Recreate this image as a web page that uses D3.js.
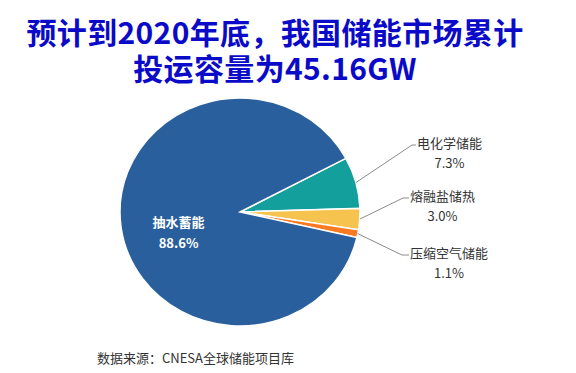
<!DOCTYPE html>
<html>
<head>
<meta charset="utf-8">
<script src="https://cdn.jsdelivr.net/npm/d3@7"></script>
<style>
  body { margin: 0; background: #fff; }
  svg { display: block; font-family: "Noto Sans CJK SC", "Noto Sans", sans-serif; }
</style>
</head>
<body>
<div id="chart"></div>
<script>
// data
var categories = ["电化学储能", "熔融盐储热", "压缩空气储能", "抽水蓄能"];
var shares = [7.3, 3.0, 1.1, 88.6];
var colors = ["#13a09c", "#f5c34e", "#fb7a22", "#2a5f9e"];
var titleLines = ["预计到2020年底，我国储能市场累计", "投运容量为45.16GW"];
var sourceText = "数据来源：CNESA全球储能项目库";

// set the dimensions of the page
var width = 576, height = 373;
var cx = 240, cy = 212, radius = 120, squash = 0.95;

var svg = d3.select("#chart")
  .append("svg")
    .attr("width", width)
    .attr("height", height);

// title
svg.append("g")
  .selectAll("text")
  .data(titleLines)
  .enter()
  .append("text")
    .attr("x", 275)
    .attr("y", function (d, i) { return 31 + i * 36; })
    .attr("text-anchor", "middle")
    .attr("dominant-baseline", "central")
    .style("font-size", "30px")
    .style("font-weight", "bold")
    .style("letter-spacing", "0.35px")
    .style("fill", "#0a0ac8")
    .text(function (d) { return d; });

// pie layout, same order as the picture, clockwise from the teal slice
var pie = d3.pie()
  .sort(null)
  .value(function (d) { return d; })
  .startAngle(61.9 * Math.PI / 180)
  .endAngle(61.9 * Math.PI / 180 + 2 * Math.PI);

var arcs = pie(shares);

var arc = d3.arc().innerRadius(0).outerRadius(radius);

var pieG = svg.append("g")
  .attr("transform", "translate(" + cx + "," + cy + ") scale(1," + squash + ")");

pieG.selectAll("path")
  .data(arcs)
  .enter()
  .append("path")
    .attr("d", arc)
    .style("fill", function (d, i) { return colors[i]; })
    .style("stroke", "white")
    .style("stroke-width", 1.5)
    .attr("vector-effect", "non-scaling-stroke");

// point on the (squashed) pie for a given angle and radius
function onPie(angle, r) {
  return [cx + Math.sin(angle) * r, cy - Math.cos(angle) * r * squash];
}

// inner label for the big slice
var big = arcs[3];
var bigMid = (big.startAngle + big.endAngle) / 2;
var c = onPie(bigMid, radius * 0.5);
svg.append("text")
    .attr("x", c[0] - 2)
    .attr("y", c[1] + 2)
    .attr("text-anchor", "middle")
    .attr("dominant-baseline", "central")
    .style("font-size", "13px")
    .style("font-weight", "bold")
    .style("fill", "white")
    .text(categories[3]);
svg.append("text")
    .attr("x", c[0] - 2)
    .attr("y", c[1] + 23)
    .attr("text-anchor", "middle")
    .attr("dominant-baseline", "central")
    .style("font-size", "13px")
    .style("font-weight", "bold")
    .style("fill", "white")
    .text(d3.format(".1f")(shares[3]) + "%");

// outside labels with leader lines (elbow positions)
var elbows = [[412, 145, 416], [403, 198, 409], [402, 255, 409]];

var outer = svg.append("g");
arcs.slice(0, 3).forEach(function (d, i) {
  var mid = (d.startAngle + d.endAngle) / 2;
  var p0 = onPie(mid, radius);
  var e = elbows[i];
  outer.append("polyline")
    .attr("points", [p0, [e[0], e[1]], [e[2], e[1]]].map(function (p) { return p.join(","); }).join(" "))
    .style("fill", "none")
    .style("stroke", "#8c8c8c")
    .style("stroke-width", 1);

  var name = outer.append("text")
    .attr("x", e[2] + 1)
    .attr("y", e[1] - 3)
    .attr("dominant-baseline", "central")
    .style("font-size", "13px")
    .style("fill", "#333")
    .text(categories[i]);
  var w = name.node().getComputedTextLength();
  outer.append("text")
    .attr("x", e[2] + 1 + w / 2)
    .attr("y", e[1] + 17)
    .attr("text-anchor", "middle")
    .attr("dominant-baseline", "central")
    .style("font-size", "13px")
    .style("fill", "#333")
    .text(d3.format(".1f")(shares[i]) + "%");
});

// source note
svg.append("text")
    .attr("x", 97)
    .attr("y", 357)
    .attr("dominant-baseline", "central")
    .style("font-size", "13px")
    .style("fill", "#333")
    .text(sourceText);
</script>
</body>
</html>
